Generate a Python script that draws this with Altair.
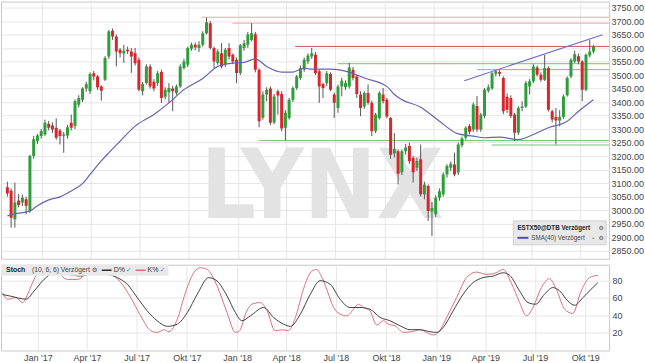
import altair as alt
import pandas as pd
import numpy as np

FONT = "Liberation Sans"
start = pd.Timestamp("2016-10-28")

# weekly candles (ESTX50 future), first week ending 2016-10-28
opens = [3085, 3072, 2966, 3036, 3028, 3040, 2997, 3200, 3255, 3274,
         3280, 3320, 3313, 3305, 3295, 3275, 3276, 3323, 3311, 3390,
         3409, 3450, 3440, 3507, 3495, 3458, 3483, 3569, 3664, 3643,
         3594, 3580, 3594, 3587, 3581, 3557, 3440, 3471, 3532, 3475,
         3471, 3511, 3420, 3436, 3450, 3434, 3458, 3526, 3538, 3597,
         3612, 3600, 3612, 3655, 3692, 3600, 3545, 3581, 3538, 3600,
         3575, 3557, 3508, 3600, 3612, 3630, 3651, 3520, 3342, 3428,
         3450, 3324, 3440, 3430, 3305, 3341, 3409, 3452, 3489, 3520,
         3550, 3569, 3575, 3514, 3467, 3470, 3504, 3428, 3378, 3458,
         3455, 3458, 3520, 3495, 3428, 3384, 3434, 3397, 3292, 3341,
         3428, 3409, 3341, 3210, 3218, 3140, 3218, 3237, 3194, 3157,
         3188, 3059, 3089, 2995, 2985, 3046, 3058, 3132, 3157, 3169,
         3139, 3240, 3268, 3311, 3298, 3385, 3298, 3348, 3442, 3450,
         3505, 3511, 3489, 3420, 3415, 3354, 3286, 3378, 3384, 3458,
         3477, 3528, 3501, 3483, 3526, 3366, 3345, 3332, 3345, 3425,
         3495, 3550, 3570, 3550, 3446, 3572, 3587]
highs = [3105, 3080, 3102, 3060, 3058, 3050, 3205, 3275, 3282, 3300,
         3335, 3330, 3325, 3340, 3300, 3290, 3315, 3354, 3410, 3425,
         3455, 3475, 3510, 3515, 3500, 3462, 3570, 3667, 3672, 3650,
         3600, 3612, 3605, 3600, 3600, 3565, 3475, 3540, 3540, 3485,
         3515, 3520, 3455, 3470, 3460, 3465, 3540, 3560, 3605, 3620,
         3620, 3625, 3662, 3713, 3700, 3605, 3595, 3618, 3600, 3618,
         3580, 3565, 3615, 3630, 3660, 3692, 3660, 3525, 3440, 3455,
         3458, 3430, 3446, 3440, 3370, 3415, 3458, 3500, 3535, 3565,
         3580, 3600, 3585, 3520, 3472, 3515, 3510, 3435, 3465, 3490,
         3480, 3545, 3530, 3500, 3440, 3440, 3465, 3405, 3360, 3440,
         3452, 3415, 3345, 3285, 3225, 3225, 3245, 3250, 3200, 3195,
         3243, 3105, 3095, 3030, 3055, 3080, 3140, 3170, 3180, 3213,
         3250, 3272, 3310, 3318, 3398, 3422, 3360, 3452, 3465, 3512,
         3520, 3518, 3495, 3432, 3425, 3360, 3385, 3403, 3478, 3485,
         3540, 3535, 3510, 3575, 3532, 3372, 3378, 3370, 3428, 3495,
         3562, 3590, 3580, 3555, 3580, 3630, 3612]
lows = [3050, 2935, 2935, 3010, 3015, 2985, 2990, 3190, 3245, 3265,
        3275, 3295, 3285, 3260, 3243, 3212, 3265, 3295, 3300, 3380,
        3400, 3438, 3430, 3480, 3445, 3405, 3478, 3560, 3630, 3532,
        3565, 3545, 3578, 3508, 3535, 3440, 3425, 3465, 3450, 3440,
        3460, 3397, 3410, 3397, 3366, 3425, 3452, 3520, 3530, 3590,
        3592, 3585, 3605, 3650, 3595, 3526, 3538, 3525, 3530, 3557,
        3540, 3470, 3500, 3590, 3600, 3625, 3510, 3307, 3335, 3403,
        3315, 3318, 3354, 3292, 3258, 3335, 3400, 3445, 3482, 3512,
        3540, 3560, 3500, 3397, 3415, 3460, 3440, 3341, 3360, 3421,
        3445, 3450, 3480, 3415, 3348, 3375, 3390, 3274, 3285, 3335,
        3395, 3340, 3190, 3195, 3095, 3130, 3205, 3170, 3102, 3145,
        3050, 3040, 2960, 2905, 2975, 3035, 3050, 3120, 3145, 3125,
        3130, 3232, 3260, 3280, 3290, 3290, 3290, 3340, 3435, 3445,
        3495, 3495, 3355, 3360, 3340, 3255, 3278, 3366, 3378, 3428,
        3470, 3495, 3475, 3478, 3365, 3325, 3243, 3310, 3338, 3420,
        3488, 3545, 3540, 3403, 3440, 3565, 3580]
closes = [3062, 2972, 3028, 3019, 3046, 3016, 3200, 3262, 3276, 3292,
          3323, 3305, 3298, 3268, 3274, 3280, 3307, 3305, 3403, 3415,
          3450, 3466, 3504, 3495, 3455, 3442, 3563, 3661, 3643, 3587,
          3581, 3590, 3588, 3569, 3544, 3446, 3467, 3532, 3458, 3450,
          3507, 3415, 3446, 3452, 3440, 3458, 3532, 3550, 3600, 3612,
          3602, 3612, 3655, 3695, 3600, 3550, 3587, 3532, 3594, 3569,
          3550, 3508, 3610, 3618, 3650, 3655, 3520, 3329, 3428, 3446,
          3323, 3421, 3424, 3302, 3360, 3409, 3452, 3495, 3526, 3557,
          3572, 3581, 3507, 3458, 3452, 3507, 3446, 3397, 3458, 3479,
          3471, 3528, 3489, 3430, 3378, 3434, 3397, 3292, 3354, 3434,
          3403, 3347, 3205, 3225, 3135, 3218, 3232, 3181, 3140, 3182,
          3059, 3095, 2997, 3008, 3046, 3070, 3132, 3163, 3172, 3132,
          3243, 3265, 3305, 3290, 3391, 3298, 3354, 3446, 3455, 3507,
          3514, 3505, 3366, 3372, 3348, 3286, 3378, 3384, 3471, 3477,
          3532, 3501, 3483, 3526, 3372, 3335, 3332, 3345, 3421, 3489,
          3557, 3577, 3550, 3446, 3575, 3587, 3606]

# SMA(40) (week index, value)
sma_week = [0, 2, 6, 8, 11, 14, 17, 20, 22, 25, 27, 30, 34, 39, 43, 47, 52, 56,
            60, 63, 66, 69, 73, 76, 79, 81, 86, 91, 95, 101, 103, 105, 110, 115,
            120, 124, 127, 131, 136, 140, 144, 149, 152, 156]
sma_val = [2979, 2986, 2997, 3016, 3038, 3049, 3071, 3098, 3132, 3182, 3212, 3255,
           3311, 3354, 3397, 3446, 3487, 3532, 3544, 3547, 3560, 3532, 3511, 3511,
           3526, 3522, 3522, 3511, 3489, 3458, 3428, 3409, 3381, 3329, 3282, 3274,
           3268, 3270, 3261, 3280, 3305, 3329, 3366, 3409]

# horizontal support / resistance lines (start week, level, colour)
hl_week = [51.6, 59.9, 76.6, 87.9, 125.0, 67.0, 128.9]
hl_level = [3714, 3692, 3606, 3542, 3520, 3258, 3241]
hl_color = ["#eaa9a9", "#eaa9a9", "#cc5555", "#77c277", "#77c277", "#77c277", "#77c277"]

# upper trend line
trend_week = [121.6, 158.4]
trend_val = [3479, 3649]

# stochastic (10,6,6)
k_week = [0, 1.4, 3.5, 5.3, 6.6, 8.3, 10.5, 13.6, 17.0, 19.7, 23.1, 25.7, 28.4, 31.0,
          33.6, 36.2, 38.8, 40.5, 42.3, 43.6, 45.8, 47.9, 50.1, 51.8, 53.6, 56.2, 58.8,
          61.0, 61.9, 64.0, 65.3, 67.5, 69.3, 71.4, 73.2, 74.9, 76.7, 78.8, 81.0, 82.3,
          83.4, 84.9, 86.7, 88.4, 90.2, 91.9, 93.2, 94.5, 96.2, 98.0, 99.7, 101.0, 102.8,
          105.0, 107.1, 109.3, 111.0, 112.8, 114.5, 116.3, 118.9, 121.5, 124.1, 126.7,
          129.3, 131.1, 133.2, 135.4, 137.2, 138.9, 141.1, 143.2, 145.0, 147.2, 149.3,
          151.5, 153.7, 155.9]
k_val = [66, 58.5, 60.4, 54.6, 64.2, 81.5, 95, 93, 81.5, 81.5, 91.2, 88.5, 87.3, 77.7,
         60.4, 39.2, 22, 20, 23, 20.8, 35.4, 66, 89.2, 95, 93, 73.9, 43, 20, 21, 45,
         52.7, 54.6, 45, 22, 23, 22, 37.3, 70, 91.2, 93, 86, 70, 48.9, 41.2, 39.2, 46.9,
         52.7, 48.9, 45, 28.5, 33.5, 29.6, 27.7, 20, 20.8, 23.1, 20, 17, 22, 37.3, 60.4,
         83.5, 90, 87.3, 89.2, 93, 77.7, 54.6, 39.2, 48.9, 72, 82.3, 70, 46.9, 42, 68,
         83.5, 86.2]
d_week = [0, 2.2, 6.2, 8.3, 10.9, 13.6, 17.0, 20.5, 24.0, 27.5, 30.1, 32.7, 35.3, 37.9,
          40.5, 43.2, 45.8, 48.4, 51.0, 54.0, 56.2, 58.8, 61.0, 62.7, 64.9, 68.4, 71.0,
          73.6, 75.4, 78.0, 80.6, 83.2, 85.8, 88.4, 91.0, 93.6, 96.2, 98.9, 101.5, 104.1,
          106.7, 109.3, 111.9, 113.7, 115.4, 118.0, 120.6, 123.2, 125.8, 128.5, 131.1,
          132.8, 135.4, 137.6, 139.6, 141.9, 144.1, 145.9, 148.0, 149.8, 152.0, 154.1, 155.9]
d_val = [64, 62, 58.5, 68, 81.5, 89, 87.3, 85.4, 88.5, 87.3, 83.5, 75.8, 60.4, 45, 33.5,
         27, 29.6, 43, 64.2, 83.5, 79.6, 62.3, 43, 33.5, 39.2, 48.9, 37.3, 29.6, 27, 41.2,
         64.2, 80, 75.8, 58.5, 48.9, 48.9, 46.9, 37.3, 33.5, 27.7, 23.1, 23.1, 20.8, 20,
         25.8, 45, 64.2, 77.7, 83.5, 85.4, 89.2, 86.2, 68, 54.6, 52.7, 64.2, 72, 68.1,
         56.5, 51.5, 60.4, 70, 77.7]

price_ticks = [2850, 2900, 2950, 3000, 3050, 3100, 3150, 3200, 3250, 3300, 3350,
               3400, 3450, 3500, 3550, 3600, 3650, 3700, 3750]
stoch_ticks = [20, 40, 60, 80]


def week_dates(weeks):
    return [start + pd.Timedelta(days=7 * float(w)) for w in weeks]


candles = pd.DataFrame({"date": week_dates(range(len(opens))), "open": opens,
                        "high": highs, "low": lows, "close": closes})
sma_df = pd.DataFrame({"date": week_dates(sma_week), "v": sma_val})
hl_df = pd.DataFrame({"date": week_dates(hl_week), "v": hl_level, "c": hl_color})
tr_df = pd.DataFrame({"date": week_dates(trend_week), "v": trend_val})
k_df = pd.DataFrame({"date": week_dates(k_week), "v": k_val})
d_df = pd.DataFrame({"date": week_dates(d_week), "v": d_val})

W = 610
xdomain = [alt.DateTime(year=2016, month=10, date=25, hours=10),
           alt.DateTime(year=2019, month=11, date=13, hours=19)]
xscale = alt.Scale(domain=xdomain)
quarters = [alt.DateTime(year=y, month=m, date=1) for y in (2017, 2018, 2019) for m in (1, 4, 7, 10)]
label_expr = ("['Jan','Feb','Mär','Apr','Mai','Jun','Jul','Aug','Sep','Okt','Nov','Dez']"
              "[month(datum.value)] + \" '\" + timeFormat(datum.value, '%y')")

xaxis_main = alt.Axis(values=quarters, labels=False, ticks=False, domain=False, grid=True)
xaxis_stoch = alt.Axis(values=quarters, labelExpr=label_expr, ticks=False, domain=False,
                       grid=True, labelPadding=3, labelFlush=False)

yscale = alt.Scale(domain=[2820, 3772], nice=False, zero=False)
yaxis = alt.Axis(values=price_ticks, format=".2f", orient="right", grid=True, ticks=False,
                 domain=False, labelPadding=2, labelFlush=False)


def X(field, axis):
    return alt.X(field, type="temporal", scale=xscale, axis=axis, title=None)


def Yp(field):
    return alt.Y(field, type="quantitative", scale=yscale, axis=yaxis, title=None)


one = pd.DataFrame({"a": [0]})


def label(txt, x, y, size=7, bold=False, color="#333333", align="left", font=FONT):
    return alt.Chart(pd.DataFrame({"t": [txt]})).mark_text(
        align=align, baseline="middle", fontSize=size,
        fontWeight="bold" if bold else "normal", color=color, font=font
    ).encode(x=alt.value(x), y=alt.value(y), text="t:N")


watermark = alt.Chart(pd.DataFrame({"t": ["LYNX"]})).mark_text(
    align="center", baseline="alphabetic", fontSize=97, fontWeight="bold",
    font="Liberation Sans Narrow, DejaVu Sans Condensed, sans-serif", color="#e3e3e3"
).encode(x=alt.value(322), y=alt.value(217), text="t:N")

wicks = alt.Chart(candles).mark_rule(color="#555555", strokeWidth=1, clip=True).encode(
    x=X("date", xaxis_main), y=Yp("low"), y2="high")
bodies = alt.Chart(candles).mark_bar(size=3, clip=True).encode(
    x=X("date", xaxis_main), y=Yp("open"), y2="close",
    color=alt.condition("datum.close >= datum.open", alt.value("#2e9e3a"), alt.value("#d9262c")))
sma = alt.Chart(sma_df).mark_line(color="#6464b4", strokeWidth=1.2, interpolate="monotone",
                                  clip=True).encode(x=X("date", xaxis_main), y=Yp("v"))
hlines = alt.Chart(hl_df).mark_rule(strokeWidth=1, clip=True).encode(
    x=X("date", xaxis_main), x2=alt.value(W), y=Yp("v"), color=alt.Color("c:N", scale=None))
trend = alt.Chart(tr_df).mark_line(color="#6a6ad2", strokeWidth=1.1, clip=True).encode(
    x=X("date", xaxis_main), y=Yp("v"))

leg_box = alt.Chart(one).mark_rect(color="#e8e8e8", stroke="#d0d0d0").encode(
    x=alt.value(514), x2=alt.value(607), y=alt.value(220), y2=alt.value(244))
leg_line = alt.Chart(one).mark_rule(color="#5050a8", strokeWidth=2).encode(
    x=alt.value(518), x2=alt.value(529), y=alt.value(237))

main = alt.layer(
    watermark, hlines, wicks, bodies, sma, trend, leg_box, leg_line,
    label("ESTX50@DTB Verzögert", 518, 227, size=6.3, bold=True, color="#222222"),
    label("\u2699", 602, 227, size=6, color="#555555", align="center", font="DejaVu Sans"),
    label("SMA(40) Verzögert", 532, 237, size=6.3, color="#444444"),
    label("\u2304", 594, 236, size=6, color="#555555", align="center", font="DejaVu Sans"),
    label("\u2699", 602, 237, size=6, color="#555555", align="center", font="DejaVu Sans"),
).properties(width=W, height=258)

ys = alt.Scale(domain=[-1, 98.5], nice=False, zero=False)
yaxis_s = alt.Axis(values=stoch_ticks, orient="right", grid=True, ticks=False, domain=False,
                   labelPadding=3, labelFlush=False)

kline = alt.Chart(k_df).mark_line(color="#d8707c", strokeWidth=1, interpolate="monotone",
                                  clip=True).encode(
    x=X("date", xaxis_stoch), y=alt.Y("v", type="quantitative", scale=ys, axis=yaxis_s, title=None))
dline = alt.Chart(d_df).mark_line(color="#404040", strokeWidth=1, interpolate="monotone",
                                  clip=True).encode(
    x=X("date", xaxis_stoch), y=alt.Y("v", type="quantitative", scale=ys, axis=yaxis_s, title=None))

s_box = alt.Chart(one).mark_rect(color="#e8e8e8").encode(
    x=alt.value(0), x2=alt.value(168), y=alt.value(0), y2=alt.value(11))
s_dl = alt.Chart(one).mark_rule(color="#303030", strokeWidth=1.5).encode(
    x=alt.value(101), x2=alt.value(111), y=alt.value(5.5))
s_kl = alt.Chart(one).mark_rule(color="#d8707c", strokeWidth=1.5).encode(
    x=alt.value(135), x2=alt.value(145), y=alt.value(5.5))

stoch = alt.layer(
    kline, dline, s_box, s_dl, s_kl,
    label("Stoch", 5, 5.5, size=7, bold=True, color="#222222"),
    label("(10, 6, 6) Verzögert", 31, 5.5, size=6.8, color="#444444"),
    label("\u2699", 94, 5.5, size=6.5, color="#555555", align="center", font="DejaVu Sans"),
    label("D%", 113, 5.5, size=7, color="#333333"),
    label("\u2713", 128, 5.5, size=6.5, color="#5577bb", align="center", font="DejaVu Sans"),
    label("K%", 147, 5.5, size=7, color="#333333"),
    label("\u2713", 162, 5.5, size=6.5, color="#5577bb", align="center", font="DejaVu Sans"),
).properties(width=W, height=86)

chart = alt.vconcat(main, stoch, spacing=4).properties(
    padding={"left": 0, "top": 0, "right": 0, "bottom": 0}, background="white"
).configure_view(stroke="#c8c8c8").configure_axis(
    labelFont=FONT, labelFontSize=9, labelColor="#444444", gridColor="#e6e6e6"
)

chart.save("out.html", embed_options={"renderer": "svg", "actions": False})
